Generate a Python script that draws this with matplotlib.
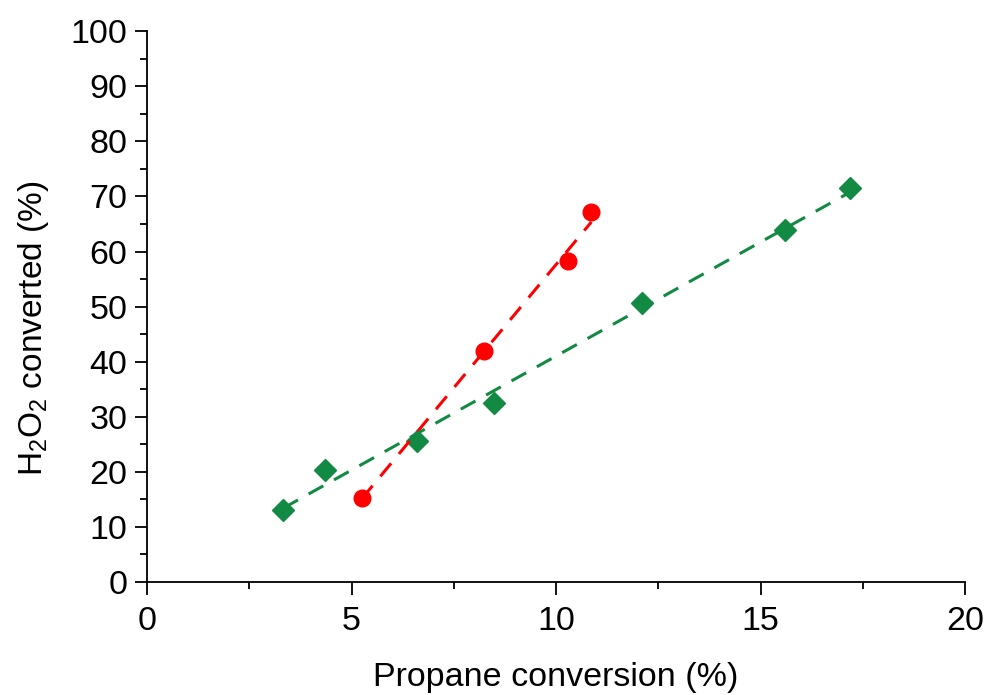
import numpy as np
import matplotlib
matplotlib.use("Agg")
import matplotlib.pyplot as plt
from matplotlib.ticker import MultipleLocator

plt.rcParams['font.family'] = ['Liberation Sans', 'DejaVu Sans']
plt.rcParams['mathtext.default'] = 'regular'

# Data
red_x = [5.25, 8.23, 10.29, 10.86]
red_y = [15.3, 41.9, 58.3, 67.1]
green_x = [3.33, 4.35, 6.60, 8.48, 12.10, 15.60, 17.19]
green_y = [13.1, 20.3, 25.6, 32.5, 50.6, 63.9, 71.5]

red_c = '#ff0000'
green_c = '#138a44'

fig = plt.figure(figsize=(9.87, 6.95), dpi=100)
ax = fig.add_axes([0.149, 0.1626, 0.829, 0.7924])

ax.plot(red_x, red_y, 'o', color=red_c, markersize=12, zorder=2)
ax.plot(green_x, green_y, 'D', color=green_c, markersize=11, zorder=2)

for xs, ys, c in [(red_x, red_y, red_c), (green_x, green_y, green_c)]:
    p = np.polyfit(xs, ys, 1)
    xx = np.array([min(xs), max(xs)])
    ax.plot(xx, np.polyval(p, xx), color=c, lw=2.2, linestyle=(0, (5.5, 4)), zorder=3)

ax.set_xlim(0, 20)
ax.set_ylim(0, 100)
ax.xaxis.set_major_locator(MultipleLocator(5))
ax.xaxis.set_minor_locator(MultipleLocator(2.5))
ax.yaxis.set_major_locator(MultipleLocator(10))
ax.yaxis.set_minor_locator(MultipleLocator(5))
for s in ['top', 'right']:
    ax.spines[s].set_visible(False)
for s in ['left', 'bottom']:
    ax.spines[s].set_linewidth(1.3)
ax.tick_params(which='major', direction='out', length=9, width=1.3, labelsize=24.5, pad=5)
ax.tick_params(axis='x', which='major', pad=8)
ax.tick_params(which='minor', direction='out', length=5, width=1.3)

ax.set_xlabel('Propane conversion (%)', fontsize=24.5, labelpad=18)
ax.set_ylabel('H$_2$O$_2$ converted (%)', fontsize=24, labelpad=14)
ax.yaxis.label.set_y(0.46)

fig.savefig('out.png', dpi=100)
